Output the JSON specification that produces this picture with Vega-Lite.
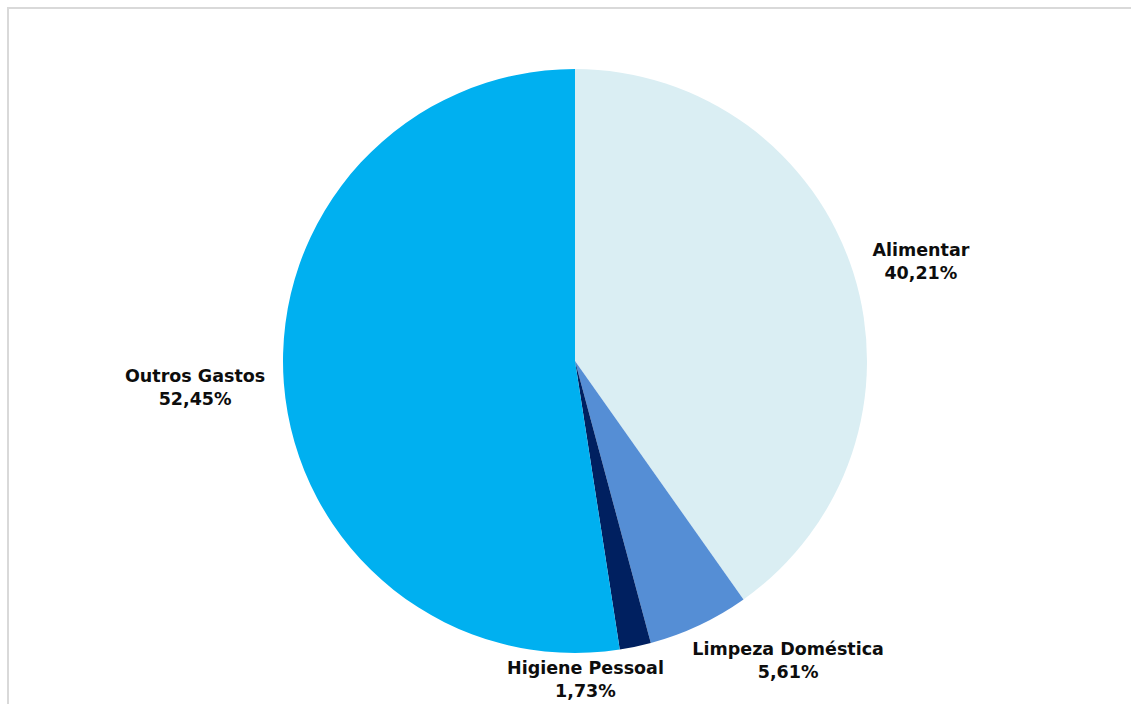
{
  "$schema": "https://vega.github.io/schema/vega-lite/v6.json",
  "autosize": "none",
  "width": 1134,
  "height": 706,
  "padding": {"left": 8, "top": 8, "right": -11, "bottom": -10},
  "background": "white",
  "view": {"stroke": "#d9d9d9", "strokeWidth": 2, "fill": "white"},
  "config": {"view": {"stroke": "#d9d9d9", "strokeWidth": 2}},
  "data": {"values": [
    {"category": "Alimentar", "value": 40.21, "order": 1},
    {"category": "Limpeza Doméstica", "value": 5.61, "order": 2},
    {"category": "Higiene Pessoal", "value": 1.73, "order": 3},
    {"category": "Outros Gastos", "value": 52.45, "order": 4}
  ]},
  "transform": [
    {"stack": "value", "sort": [{"field": "order", "order": "ascending"}], "groupby": [], "as": ["v0", "v1"]},
    {"calculate": "(datum.v0 + datum.v1) / 2", "as": "mid"},
    {"calculate": "datum.category + '\\n' + replace(format(datum.value, '.2f'), '.', ',') + '%'", "as": "label"}
  ],
  "layer": [
    {
      "mark": {"type": "arc", "outerRadius": 292},
      "encoding": {
        "theta": {"field": "v0", "type": "quantitative", "scale": {"domain": [0, 100]}},
        "theta2": {"field": "v1"},
        "color": {
          "field": "category", "type": "nominal", "legend": null,
          "scale": {
            "domain": ["Alimentar", "Limpeza Doméstica", "Higiene Pessoal", "Outros Gastos"],
            "range": ["#DAEEF3", "#558ED5", "#002060", "#00B0F0"]
          }
        }
      }
    },
    {
      "transform": [{"filter": "datum.category === 'Alimentar'"}],
      "mark": {"type": "text", "radius": 365, "dx": -2, "dy": 0, "lineBreak": "\n", "lineHeight": 23, "font": "DejaVu Sans", "fontWeight": "bold", "fontSize": 17.5, "color": "#0d0d0d", "align": "center", "baseline": "middle"},
      "encoding": {"theta": {"field": "mid", "type": "quantitative", "scale": {"domain": [0, 100]}}, "text": {"field": "label"}}
    },
    {
      "transform": [{"filter": "datum.category === 'Limpeza Doméstica'"}],
      "mark": {"type": "text", "radius": 365, "dx": 58, "dy": -41, "lineBreak": "\n", "lineHeight": 23, "font": "DejaVu Sans", "fontWeight": "bold", "fontSize": 17.5, "color": "#0d0d0d", "align": "center", "baseline": "middle"},
      "encoding": {"theta": {"field": "mid", "type": "quantitative", "scale": {"domain": [0, 100]}}, "text": {"field": "label"}}
    },
    {
      "transform": [{"filter": "datum.category === 'Higiene Pessoal'"}],
      "mark": {"type": "text", "radius": 365, "dx": -65, "dy": -49, "lineBreak": "\n", "lineHeight": 23, "font": "DejaVu Sans", "fontWeight": "bold", "fontSize": 17.5, "color": "#0d0d0d", "align": "center", "baseline": "middle"},
      "encoding": {"theta": {"field": "mid", "type": "quantitative", "scale": {"domain": [0, 100]}}, "text": {"field": "label"}}
    },
    {
      "transform": [{"filter": "datum.category === 'Outros Gastos'"}],
      "mark": {"type": "text", "radius": 365, "dx": -16, "dy": -12, "lineBreak": "\n", "lineHeight": 23, "font": "DejaVu Sans", "fontWeight": "bold", "fontSize": 17.5, "color": "#0d0d0d", "align": "center", "baseline": "middle"},
      "encoding": {"theta": {"field": "mid", "type": "quantitative", "scale": {"domain": [0, 100]}}, "text": {"field": "label"}}
    }
  ]
}
